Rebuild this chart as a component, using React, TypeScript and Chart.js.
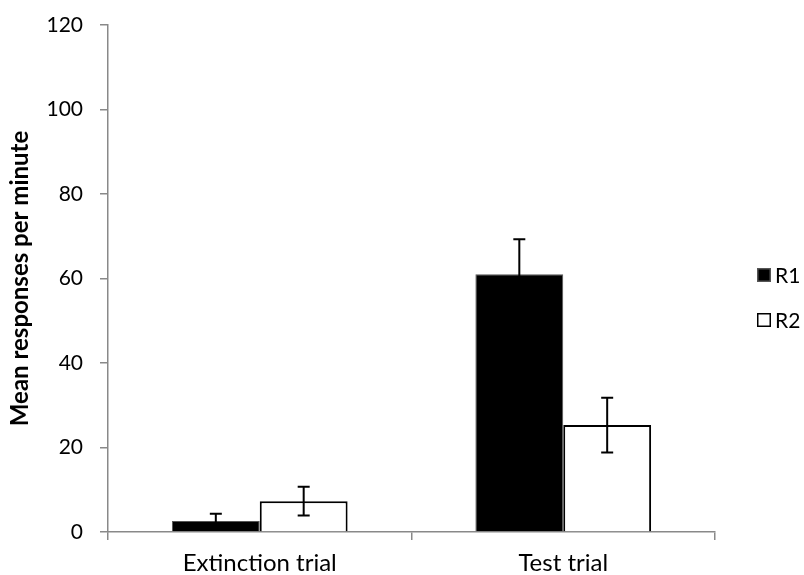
import React, { useEffect, useRef } from "react";
import { Chart, registerables } from "chart.js";

Chart.register(...registerables);

const categories = ["Extinction trial", "Test trial"];
const seriesLabels = ["R1", "R2"];
const r1Means = [2.6, 61.0];
const r2Means = [7.3, 25.3];
const r1Errors = [1.7, 8.3];
const r2Errors = [3.4, 6.5];
const yTicks = [0, 20, 40, 60, 80, 100, 120];
const yTitle = "Mean responses per minute";

const FONT = "Lato, 'Noto Sans', 'DejaVu Sans', sans-serif";
const AXIS_COLOR = "#898989";

const errorBarPlugin = {
  id: "errorBars",
  afterDatasetsDraw(chart: any) {
    const ctx = chart.ctx;
    const y = chart.scales.y;
    chart.data.datasets.forEach((ds: any, i: number) => {
      const meta = chart.getDatasetMeta(i);
      meta.data.forEach((bar: any, j: number) => {
        const v = ds.data[j];
        const e = ds.errors[j];
        const x = bar.x;
        const yTop = y.getPixelForValue(v + e);
        const yBot = y.getPixelForValue(v - e);
        ctx.save();
        ctx.strokeStyle = "#000";
        ctx.lineWidth = 2;
        ctx.beginPath();
        ctx.moveTo(x, yTop);
        ctx.lineTo(x, yBot);
        ctx.moveTo(x - 6, yTop);
        ctx.lineTo(x + 6, yTop);
        ctx.moveTo(x - 6, yBot);
        ctx.lineTo(x + 6, yBot);
        ctx.stroke();
        ctx.restore();
      });
    });
  },
};

const legendPlugin = {
  id: "sideLegend",
  afterDraw(chart: any) {
    const ctx = chart.ctx;
    const x = chart.chartArea.right + 42;
    const yStart = 275;
    const gap = 45;
    chart.data.datasets.forEach((ds: any, i: number) => {
      const cy = yStart + i * gap;
      ctx.save();
      ctx.fillStyle = ds.backgroundColor;
      ctx.fillRect(x, cy - 7, 14, 14);
      ctx.strokeStyle = ds.borderColor;
      ctx.lineWidth = 1.5;
      ctx.strokeRect(x + 0.75, cy - 6.25, 12.5, 12.5);
      ctx.fillStyle = "#000";
      ctx.font = `21px ${FONT}`;
      ctx.textBaseline = "middle";
      ctx.textAlign = "left";
      ctx.fillText(ds.label, x + 18, cy + 1);
      ctx.restore();
    });
  },
};

export default function App() {
  const ref = useRef<HTMLCanvasElement>(null);

  useEffect(() => {
    if (!ref.current) return;
    const chart = new Chart(ref.current, {
      type: "bar",
      data: {
        labels: categories,
        datasets: [
          {
            label: seriesLabels[0],
            data: r1Means,
            errors: r1Errors,
            backgroundColor: "#000000",
            borderColor: "#555555",
            borderWidth: 1,
            categoryPercentage: 0.579,
            barPercentage: 1.0,
          } as any,
          {
            label: seriesLabels[1],
            data: r2Means,
            errors: r2Errors,
            backgroundColor: "#ffffff",
            borderColor: "#000000",
            borderWidth: 2,
            categoryPercentage: 0.579,
            barPercentage: 1.0,
          } as any,
        ],
      },
      options: {
        responsive: false,
        animation: false,
        layout: { padding: { top: 25, right: 89, left: 0, bottom: 0 } },
        plugins: {
          legend: { display: false },
          tooltip: { enabled: false },
        },
        scales: {
          x: {
            grid: {
              display: true,
              drawOnChartArea: false,
              drawTicks: true,
              tickLength: 8,
              color: AXIS_COLOR,
              lineWidth: 1.5,
              offset: true,
            },
            border: { color: AXIS_COLOR, width: 1.5 },
            ticks: {
              color: "#000",
              font: { family: FONT, size: 24 },
              padding: 9,
            },
            afterFit: (s: any) => {
              s.height = 43;
              s.paddingLeft = 0;
              s.paddingRight = 0;
            },
          },
          y: {
            min: 0,
            max: 120,
            afterBuildTicks: (s: any) => {
              s.ticks = yTicks.map((v) => ({ value: v }));
            },
            grid: {
              display: true,
              drawOnChartArea: false,
              drawTicks: true,
              tickLength: 8,
              color: AXIS_COLOR,
              lineWidth: 1.5,
            },
            border: { color: AXIS_COLOR, width: 1.5 },
            ticks: {
              color: "#000",
              font: { family: FONT, size: 21 },
              padding: 17,
            },
            title: {
              display: true,
              text: yTitle,
              color: "#000",
              font: { family: FONT, size: 24, weight: "bold" },
              padding: { top: 6, bottom: 0 },
            },
            afterFit: (s: any) => {
              s.width = 108;
              s.paddingTop = 0;
              s.paddingBottom = 0;
            },
          },
        },
      },
      plugins: [errorBarPlugin, legendPlugin],
    });
    return () => chart.destroy();
  }, []);

  return (
    <div style={{ position: "fixed", left: 0, top: 0, width: 804, height: 575, background: "#fff" }}>
      <canvas ref={ref} width={804} height={575} style={{ display: "block" }} />
    </div>
  );
}
